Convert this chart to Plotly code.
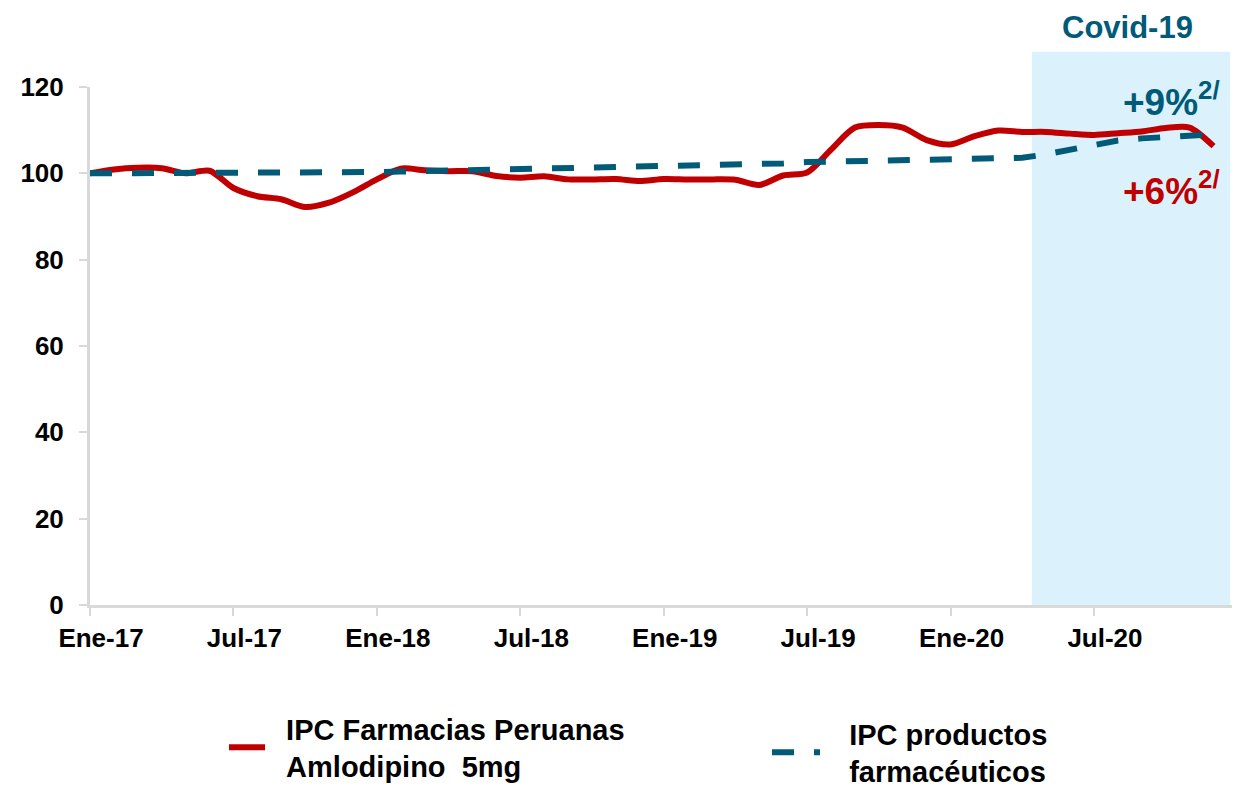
import plotly.graph_objects as go

months = list(range(48))
tick_vals = [0, 6, 12, 18, 24, 30, 36, 42]
tick_text = ["Ene-17", "Jul-17", "Ene-18", "Jul-18", "Ene-19", "Jul-19", "Ene-20", "Jul-20"]

farmacias = [100.0, 100.9, 101.3, 101.2, 100.0, 100.6, 96.6, 94.7, 94.0, 92.2, 93.2, 95.6,
             98.6, 101.1, 100.7, 100.5, 100.5, 99.4, 99.0, 99.3, 98.6, 98.6, 98.7, 98.2,
             98.7, 98.6, 98.6, 98.5, 97.3, 99.5, 100.2, 105.5, 110.6, 111.2, 110.6, 107.7,
             106.7, 108.6, 109.9, 109.6, 109.6, 109.2, 108.9, 109.3, 109.7, 110.5, 110.6, 106.3]
farmaceuticos = [100.0, 100.0, 100.0, 100.0, 100.0, 100.1, 100.1, 100.1, 100.1, 100.2, 100.2, 100.2,
                 100.3, 100.4, 100.5, 100.6, 100.7, 100.8, 100.9, 101.0, 101.1, 101.2, 101.3, 101.4,
                 101.6, 101.7, 101.8, 101.9, 102.1, 102.3, 102.6, 102.7, 102.8, 102.9, 103.0, 103.1,
                 103.3, 103.4, 103.5, 103.6, 104.4, 105.5, 106.8, 107.6, 108.1, 108.4, 108.8, 109.0]

covid_start, covid_end = 39.4, 47.7

RED = "#C00000"
TEAL = "#005A78"
AXIS = "#D9D9D9"
SHADE = "#DBF2FD"
FONT = "Liberation Sans, Arial, sans-serif"
NB = "&nbsp;"

W, H = 1232, 779  # page adds an 8px body margin

fig = go.Figure()
fig.add_trace(go.Scatter(
    x=months, y=farmacias, mode="lines",
    line=dict(color=RED, width=6, shape="spline", smoothing=0.8),
    name=NB * 2 + "IPC Farmacias Peruanas<br>" + NB * 2 + "Amlodipino  5mg", legend="legend"))
fig.add_trace(go.Scatter(
    x=months, y=farmaceuticos, mode="lines",
    line=dict(color=TEAL, width=6, dash="22px,20px"),
    name=NB * 3 + "IPC productos<br>" + NB * 3 + "farmacéuticos", legend="legend2"))

fig.add_shape(type="rect", xref="x", yref="paper", x0=covid_start, x1=covid_end,
              y0=-0.006, y1=1.068, fillcolor=SHADE, line_width=0, layer="below")


def px_x(p):
    return (p - 90) / 1145


def px_y(p):
    return (605 - p) / 518


fig.add_annotation(xref="paper", yref="paper", x=px_x(1127), y=px_y(27),
                   xanchor="center", yanchor="middle",
                   text="Covid-19", showarrow=False,
                   font=dict(family=FONT, size=31, color=TEAL, weight="bold"))
fig.add_annotation(xref="paper", yref="paper", x=px_x(1222), y=px_y(100),
                   xanchor="right", yanchor="middle", text="+9%<sup>2/</sup>", showarrow=False,
                   font=dict(family=FONT, size=37, color=TEAL, weight="bold"))
fig.add_annotation(xref="paper", yref="paper", x=px_x(1222), y=px_y(188),
                   xanchor="right", yanchor="middle", text="+6%<sup>2/</sup>", showarrow=False,
                   font=dict(family=FONT, size=37, color=RED, weight="bold"))

legend_font = dict(family=FONT, size=29, color="black", weight="bold")
tick_font = dict(family=FONT, size=26, color="black", weight="bold")
fig.update_layout(
    width=W, height=H,
    margin=dict(l=82, r=5, t=79, b=182, autoexpand=False),
    plot_bgcolor="white", paper_bgcolor="white",
    showlegend=True,
    legend=dict(xref="container", yref="container", x=216 / W, y=1 - 695 / H,
                xanchor="left", yanchor="top",
                font=legend_font, itemwidth=36, bgcolor="rgba(0,0,0,0)"),
    legend2=dict(xref="container", yref="container", x=759 / W, y=1 - 700 / H,
                 xanchor="left", yanchor="top",
                 font=legend_font, itemwidth=48, bgcolor="rgba(0,0,0,0)"),
    xaxis=dict(range=[0, 47.9], tickmode="array", tickvals=tick_vals, ticktext=tick_text,
               showgrid=False, zeroline=False, showline=True, linecolor=AXIS, linewidth=3,
               ticks="outside", ticklen=8, tickwidth=2, tickcolor=AXIS,
               ticklabelstandoff=0, ticklabelshift=11, tickfont=tick_font, automargin=False),
    yaxis=dict(range=[0, 120], tickvals=[0, 20, 40, 60, 80, 100, 120],
               showgrid=False, zeroline=False, showline=True, linecolor=AXIS, linewidth=3,
               ticks="outside", ticklen=8, tickwidth=2, tickcolor=AXIS,
               ticklabelstandoff=10, tickfont=tick_font, automargin=False),
)

fig.write_html("out.html")
